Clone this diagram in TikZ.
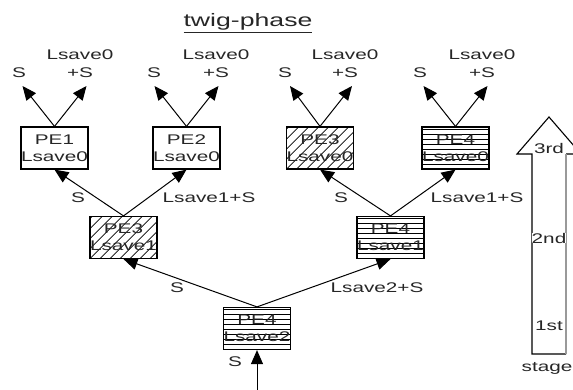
\documentclass[tikz,border=0pt]{standalone}
\usepackage{fontspec}
\setmainfont[FakeStretch=1.48]{Liberation Sans}
\usetikzlibrary{arrows.meta}
\begin{document}
\begin{tikzpicture}[x=1pt,y=-1pt,
  txt/.style={text=black!85,inner sep=0pt,font=\fontsize{14}{18}\selectfont,align=center},
  pebox/.style={draw,line width=1.2pt,minimum width=65pt,minimum height=42pt,inner sep=0pt,
    align=center,text=black!85,font=\fontsize{14}{17}\selectfont},
  hatchd/.style={path picture={\foreach \i in {-50,-40,...,70}{\draw[line width=0.7pt]
     ([xshift=\i pt]path picture bounding box.south west) -- ++(45:90pt);}}},
  hatchh/.style={path picture={\foreach \j in {5,10,...,40}{\draw[line width=0.7pt]
     ([yshift=\j pt]path picture bounding box.south west) -- ++(70pt,0pt);}}},
  conn/.style={line width=1pt,-{Triangle[length=14pt,width=12pt]}}]
\useasboundingbox (0,0) rectangle (573,390);
% title
\node[anchor=base,text=black!85,inner sep=0pt,font=\fontsize{18}{20}\selectfont] (title) at (248,27) {\underline{twig-phase}};
% stage 3 boxes
\node[pebox] (a1) at (54.5,148) {PE1\\Lsave0};
\node[pebox] (a2) at (186.5,148) {PE2\\Lsave0};
\node[pebox,hatchd] (a3) at (320,148) {PE3\\Lsave0};
\node[pebox,hatchh] (a4) at (455.5,148) {PE4\\Lsave0};
% stage 2 boxes
\node[pebox,hatchd] (b1) at (123.5,237.5) {PE3\\Lsave1};
\node[pebox,hatchh] (b2) at (390.5,237.5) {PE4\\Lsave1};
% stage 1 box
\node[pebox,hatchh] (c1) at (257,328.5) {PE4\\Lsave2};
% output tips
\coordinate (t1l) at (22.5,86);  \coordinate (t1r) at (86.5,86);
\coordinate (t2l) at (154.5,86); \coordinate (t2r) at (218.5,86);
\coordinate (t3l) at (290,86);   \coordinate (t3r) at (352,86);
\coordinate (t4l) at (423.5,86); \coordinate (t4r) at (487.5,86);
\coordinate (in) at (257,392);
% connectors
\foreach \n in {1,2,3,4}{
  \draw[conn] (a\n.north) -- (t\n l);
  \draw[conn] (a\n.north) -- (t\n r);
}
\draw[conn] (b1.north) -- (a1.south);
\draw[conn] (b1.north) -- (a2.south);
\draw[conn] (b2.north) -- (a3.south);
\draw[conn] (b2.north) -- (a4.south);
\draw[conn] (c1.north) -- (b1.south);
\draw[conn] (c1.north) -- (b2.south);
\draw[conn] (in) -- (c1.south);
% top labels
\node[txt] (s1) at (19,73) {S};   \node[txt] (l1) at (80,64) {Lsave0\\+S};
\node[txt] (s2) at (154,73) {S};  \node[txt] (l2) at (216,64) {Lsave0\\+S};
\node[txt] (s3) at (285,73) {S};  \node[txt] (l3) at (345,64) {Lsave0\\+S};
\node[txt] (s4) at (420,73) {S};  \node[txt] (l4) at (482,64) {Lsave0\\+S};
% middle labels
\node[txt] (m1) at (78,198) {S};   \node[txt] (m2) at (209,198) {Lsave1+S};
\node[txt] (m3) at (341,198) {S};  \node[txt] (m4) at (477,198) {Lsave1+S};
% bottom labels
\node[txt] (m5) at (177,288) {S};  \node[txt] (m6) at (377,288) {Lsave2+S};
\node[txt] (m7) at (235,362) {S};
% stage arrow
\draw[line width=1.1pt] (566,354) -- (532,354) -- (532,154) -- (517,154) -- (549,117) -- (581,154) -- (566,154);
\draw[black!40,line width=1.6pt] (566,154) -- (566,354);
\node[txt,fill=white] (st3) at (549,148) {3rd};
\node[txt,fill=white] (st2) at (549,238) {2nd};
\node[txt,fill=white] (st1) at (549,326) {1st};
\node[txt] (stg) at (547,368) {stage};
\end{tikzpicture}
\end{document}
